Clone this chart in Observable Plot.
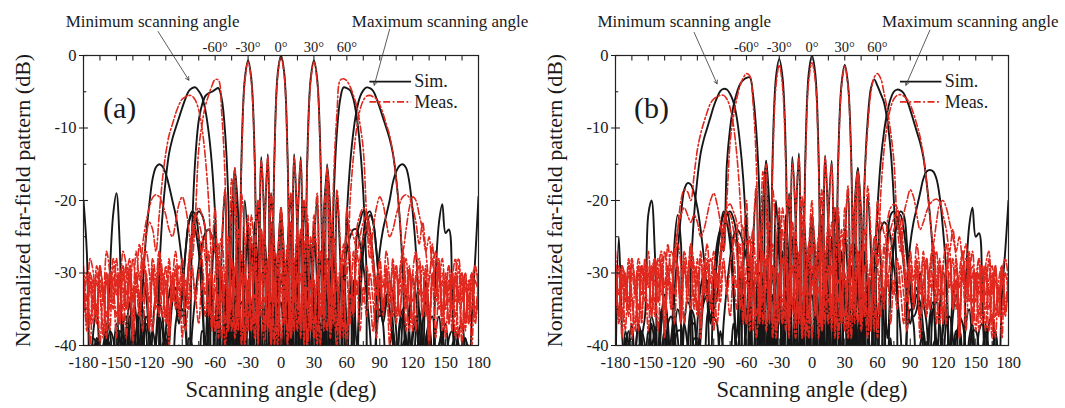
<!DOCTYPE html>
<html>
<head>
<meta charset="utf-8">
<script src="https://cdn.jsdelivr.net/npm/d3@7"></script>
<script src="https://cdn.jsdelivr.net/npm/@observablehq/plot@0.6"></script>
<style>
  html, body { margin: 0; padding: 0; background: #fff; }
  #wrap { display: flex; width: 1065px; height: 408px; overflow: hidden; }
</style>
</head>
<body>
<div id="wrap"></div>
<script>
// angle grid: -180..180 step 3 deg (121 samples)
const angles = d3.range(-180, 181, 3);

// ---------- Panel (a) : simulated ----------
const simA_min = [
-20,-27,-45,-38,-35,-42,-45,-40,-30,-22,
-19,-26,-45,-38,-34,-40,-45,-35,-31,-33,
-40,-45,-45,-30,-22,-17,-13.5,-11.5,-10,-8.6,
-7.2,-5.9,-4.9,-4.5,-4.4,-4.9,-5.7,-7.5,-10.5,-15,
-22,-32,-45,-33,-30,-36,-45,-34,-31,-37,
-45,-35,-32,-38,-45,-36,-33,-39,-45,-37,
-34,-40,-45,-38,-35,-41,-45,-39,-36,-42,
-45,-40,-37,-43,-45,-41,-38,-44,-45,-42,
-39,-45,-45,-43,-40,-45,-45,-44,-41,-45,
-45,-44,-42,-45,-45,-45,-43,-45,-45,-44,
-45,-45,-44,-45,-45,-45,-45,-44,-45,-45,
-45,-45,-45,-44,-45,-45,-45,-45,-45,-45,
-45];
const simA_m60 = [
-41,-42,-45,-39,-40,-45,-43,-37,-38,-45,
-40,-35,-37,-45,-38,-33,-36,-45,-32,-25,
-20.5,-17,-15.4,-15,-15.3,-16.3,-18,-20,-22,-25,
-29,-36,-45,-24,-14,-9,-6.8,-5.6,-5.2,-5.0,
-4.7,-4.5,-6,-10.5,-20,-45,-16,-22,-45,-20,
-27,-45,-23,-30,-45,-25,-33,-45,-27,-35,
-45,-28,-36,-45,-29,-37,-45,-30,-38,-45,
-31,-39,-45,-32,-40,-45,-33,-39,-45,-30,
-27,-25,-24,-24,-26,-29,-33,-38,-45,-38,
-35,-37,-45,-40,-38,-42,-45,-40,-39,-45,
-41,-40,-45,-45,-42,-41,-45,-43,-42,-45,
-44,-43,-45,-45,-43,-44,-45,-42,-41,-45,
-41];
const simA_m30 = [
-42,-43,-45,-40,-41,-45,-44,-39,-40,-45,
-43,-38,-39,-45,-42,-37,-41,-45,-39,-36,
-38,-45,-39,-34,-36,-45,-40,-34,-32,-35,
-36,-34,-29,-25,-22.5,-21.5,-22,-24,-45,-31,
-23,-45,-27,-18.5,-45,-22,-15.5,-45,-14,-3.3,
-0.7,-3.3,-14,-45,-14,-24,-45,-19,-27,-45,
-21,-29,-45,-23,-31,-45,-24,-33,-45,-26,
-34,-45,-28,-36,-45,-29,-38,-45,-30,-36,
-45,-32,-38,-45,-30,-25,-22,-21.5,-23,-27,
-32,-36,-34,-33,-37,-45,-38,-36,-40,-45,
-39,-37,-41,-45,-40,-38,-43,-45,-40,-39,
-44,-45,-41,-40,-45,-45,-42,-41,-45,-44,
-43];
const simA_0 = [
-40,-42,-45,-41,-39,-45,-40,-38,-45,-42,
-37,-39,-45,-42,-36,-37,-45,-40,-35,-38,
-45,-38,-33,-36,-45,-38,-33,-31,-34,-37,
-33,-27,-23,-22,-24,-27,-34,-40,-31,-45,
-38,-29,-45,-35,-27,-45,-34,-25,-45,-32,
-23,-45,-30,-20,-45,-25,-13.6,-45,-14,-2.5,
0,-2.5,-14,-45,-13.6,-25,-45,-20,-30,-45,
-23,-32,-45,-25,-34,-45,-27,-35,-45,-29,
-38,-45,-31,-40,-34,-27,-24,-22,-23,-27,
-33,-37,-34,-31,-33,-38,-45,-36,-33,-38,
-45,-38,-35,-40,-45,-37,-36,-42,-45,-39,
-37,-42,-45,-38,-40,-45,-39,-41,-45,-42,
-40];
const simA_30 = [
-43,-44,-45,-41,-42,-45,-45,-40,-41,-45,
-44,-39,-40,-45,-43,-38,-40,-45,-41,-37,
-39,-45,-40,-36,-38,-45,-37,-33,-34,-36,
-32,-27,-23,-21.5,-22,-25,-30,-45,-38,-32,
-45,-36,-30,-45,-38,-29,-45,-36,-28,-45,
-34,-26,-45,-33,-24,-45,-31,-23,-45,-29,
-21,-45,-27,-19,-45,-24,-14,-45,-14,-3.3,
-0.7,-3.3,-14,-45,-15,-22,-45,-19,-28,-45,
-22,-30,-45,-25,-23,-21.5,-22,-24,-28,-33,
-36,-35,-33,-35,-40,-45,-37,-35,-39,-45,
-38,-36,-40,-45,-39,-37,-42,-45,-40,-38,
-43,-45,-40,-39,-44,-45,-41,-40,-45,-43,
-42];
const simA_60 = [
-42,-41,-45,-45,-39,-40,-45,-43,-38,-39,
-45,-42,-37,-36,-41,-45,-38,-35,-37,-45,
-40,-38,-41,-45,-42,-38,-40,-45,-37,-35,
-35,-38,-45,-38,-33,-29,-26,-24.5,-24,-25,
-27,-30,-45,-39,-33,-45,-40,-32,-45,-39,
-31,-45,-38,-30,-45,-37,-29,-45,-36,-28,
-45,-35,-27,-45,-33,-25,-45,-30,-23,-45,
-27,-20,-45,-22,-16,-45,-20,-10.5,-6,-4.4,
-4.5,-4.8,-6,-8.5,-12.5,-19,-30,-45,-45,-33,
-27,-24,-22,-20,-17.5,-16,-15.2,-15,-15.5,-17.5,
-21.5,-27,-36,-45,-31,-36,-45,-38,-36,-41,
-45,-39,-38,-43,-45,-40,-39,-44,-45,-42,
-41];
const simA_max = [
-45,-44,-43,-45,-45,-43,-44,-45,-42,-41,
-45,-45,-42,-41,-45,-45,-43,-42,-45,-45,
-41,-40,-45,-45,-40,-39,-44,-45,-41,-40,
-45,-45,-39,-40,-45,-44,-38,-39,-45,-44,
-36,-38,-45,-43,-35,-37,-45,-42,-34,-36,
-45,-41,-33,-35,-45,-40,-32,-34,-45,-39,
-31,-33,-45,-38,-30,-32,-45,-37,-29,-31,
-45,-36,-28,-30,-45,-34,-28,-33,-45,-32,
-22,-15,-10.5,-7.5,-5.7,-4.8,-4.4,-4.5,-4.9,-5.9,
-7.2,-8.6,-10,-11.5,-13.5,-17,-22,-30,-45,-36,
-31,-33,-45,-37,-34,-38,-45,-30,-23,-20.5,
-24.5,-24,-33,-45,-38,-37,-42,-45,-36,-28,
-19.5];

// ---------- Panel (a) : measured ----------
const measA_min = [
-29,-34,-28,-30,-36,-29,-33,-27,-30,-35,
-28,-32,-27,-29,-34,-28,-31,-26,-29,-25,
-23,-24,-27,-22,-17,-13.5,-11,-9.5,-8,-6.8,
-6,-5.7,-5.5,-5.6,-6.2,-7.5,-10,-14,-20,-30,
-38,-28,-25,-31,-27,-35,-29,-33,-38,-30,
-34,-29,-37,-31,-35,-40,-30,-34,-31,-38,
-32,-36,-30,-39,-33,-31,-37,-32,-40,-34,
-31,-38,-33,-36,-30,-39,-34,-32,-37,-31,
-40,-33,-35,-31,-38,-32,-36,-30,-34,-39,
-31,-35,-30,-37,-33,-29,-36,-31,-38,-30,
-34,-31,-29,-36,-32,-40,-30,-33,-28,-35,
-31,-37,-30,-34,-29,-38,-32,-35,-30,-36,
-33];
const measA_m60 = [
-30,-38,-31,-35,-29,-32,-38,-30,-34,-28,
-31,-37,-30,-35,-29,-33,-27,-31,-26,-23,
-21,-19.6,-19.2,-19.5,-20.5,-22,-24,-25,-23,-20.5,
-19.5,-21,-24,-28,-22,-13,-9.5,-7,-5.5,-4.2,
-3.3,-3.4,-8,-17,-38,-17,-22,-36,-19,-26,
-38,-22,-28,-39,-24,-30,-37,-26,-32,-40,
-27,-33,-38,-28,-34,-30,-37,-29,-35,-31,
-39,-30,-36,-32,-28,-34,-30,-38,-29,-27,
-25,-24,-25,-27,-30,-34,-29,-33,-38,-31,
-29,-35,-31,-40,-32,-30,-36,-31,-28,-34,
-30,-38,-31,-33,-29,-36,-31,-39,-32,-30,
-35,-31,-38,-30,-34,-31,-37,-32,-30,-36,
-33];
const measA_m30 = [
-31,-35,-32,-37,-30,-33,-39,-31,-35,-29,
-33,-30,-37,-31,-28,-34,-30,-36,-29,-27,
-30,-38,-32,-27,-33,-29,-36,-31,-27,-32,
-28,-33,-29,-25,-22,-21,-22,-24,-36,-28,
-21,-39,-26,-18.5,-37,-23,-15.5,-38,-15,-3.6,
-0.9,-3.6,-15,-40,-14.5,-23,-38,-19,-27,-37,
-21,-28,-40,-23,-30,-38,-24,-31,-39,-25,
-32,-40,-27,-33,-38,-28,-34,-40,-29,-34,
-38,-30,-34,-28,-25,-23,-22,-24,-28,-33,
-30,-35,-29,-33,-28,-36,-30,-27,-33,-29,
-37,-30,-28,-34,-30,-38,-31,-29,-35,-31,
-39,-32,-30,-36,-33,-40,-31,-34,-30,-37,
-32];
const measA_0 = [
-33,-31,-40,-33,-36,-30,-32,-39,-30,-34,
-31,-37,-29,-33,-30,-40,-32,-36,-29,-31,
-38,-30,-35,-28,-31,-37,-29,-34,-30,-36,
-31,-35,-30,-26,-24,-25,-28,-33,-27,-37,
-30,-26,-39,-31,-25,-38,-30,-24,-40,-29,
-22,-38,-27,-20,-36,-24,-14,-40,-14.5,-2.8,
-0.2,-2.8,-14.5,-38,-14,-24,-36,-20,-27,-38,
-22,-29,-40,-24,-30,-38,-25,-31,-39,-26,
-30,-37,-27,-33,-28,-25,-24,-26,-30,-35,
-31,-36,-30,-34,-29,-37,-31,-28,-35,-30,
-38,-31,-29,-36,-32,-40,-30,-33,-29,-37,
-31,-34,-30,-39,-32,-30,-36,-33,-40,-31,
-33];
const measA_30 = [
-32,-37,-30,-34,-31,-40,-33,-36,-30,-32,
-39,-31,-35,-29,-31,-38,-30,-34,-28,-30,
-37,-29,-33,-27,-30,-36,-28,-33,-29,-35,
-30,-33,-28,-24,-22,-23,-25,-28,-34,-30,
-38,-34,-29,-40,-34,-28,-38,-33,-27,-40,
-32,-25,-39,-31,-24,-38,-30,-23,-40,-28,
-21,-37,-27,-19,-38,-23,-14.5,-40,-15,-3.6,
-0.9,-3.6,-15,-38,-15.5,-23,-37,-18.5,-26,-39,
-21,-28,-36,-24,-22,-21,-22,-25,-29,-33,
-28,-32,-27,-31,-36,-29,-33,-27,-32,-38,
-30,-27,-33,-29,-36,-31,-28,-34,-30,-38,
-32,-29,-35,-31,-39,-33,-30,-37,-32,-35,
-31];
const measA_60 = [
-33,-36,-30,-32,-37,-31,-34,-30,-38,-31,
-30,-35,-32,-39,-31,-36,-31,-33,-38,-30,
-34,-28,-31,-36,-30,-32,-40,-31,-35,-29,
-31,-38,-33,-29,-34,-30,-27,-25,-24,-25,
-27,-29,-34,-30,-38,-28,-32,-36,-30,-39,
-31,-35,-29,-37,-30,-34,-28,-38,-33,-27,
-40,-32,-26,-37,-30,-24,-39,-28,-22,-38,
-26,-19,-36,-22,-17,-38,-17,-8,-3.4,-3.2,
-3.5,-4.3,-5.5,-7,-9.5,-13,-22,-28,-24,-21,
-19.5,-20.5,-23,-25,-24,-22,-20.5,-19.5,-19.2,-19.6,
-21,-23,-26,-23,-27,-31,-26,-33,-29,-36,
-30,-37,-31,-28,-34,-30,-38,-31,-35,-29,
-32];
const measA_max = [
-34,-30,-37,-31,-35,-29,-33,-38,-30,-32,
-36,-31,-29,-35,-30,-39,-32,-30,-34,-31,
-37,-30,-33,-29,-36,-31,-38,-30,-34,-32,
-39,-31,-35,-30,-33,-37,-31,-36,-30,-38,
-32,-35,-30,-37,-33,-31,-39,-34,-30,-36,
-31,-38,-33,-35,-30,-37,-32,-40,-31,-34,
-30,-36,-33,-39,-31,-35,-30,-38,-32,-34,
-37,-31,-29,-35,-28,-33,-27,-31,-38,-28,
-30,-20,-14,-10,-7.5,-6.2,-5.6,-5.5,-5.7,-6,
-6.8,-8,-9.5,-11,-13.5,-17,-22,-27,-24,-21,
-19.5,-20,-22,-24,-27,-25,-29,-27,-31,-28,
-33,-29,-35,-30,-28,-34,-30,-37,-31,-29,
-32];

// ---------- Panel (b) : simulated ----------
const simB_min = [
-45,-25,-38,-45,-40,-37,-43,-45,-39,-36,
-22,-20,-27,-45,-36,-33,-38,-45,-26,-22,
-26,-45,-45,-30,-22,-17,-13.5,-11.5,-10,-8.5,
-7,-5.8,-4.9,-4.6,-4.7,-5.3,-6.4,-8.5,-12,-17,
-25,-36,-45,-33,-30,-36,-45,-34,-31,-37,
-45,-36,-33,-38,-45,-35,-32,-39,-45,-36,
-33,-40,-45,-37,-34,-41,-45,-38,-35,-42,
-45,-39,-36,-43,-45,-40,-37,-44,-45,-41,
-38,-45,-45,-42,-39,-45,-45,-43,-40,-45,
-45,-43,-41,-45,-45,-44,-42,-45,-45,-43,
-45,-44,-43,-45,-45,-45,-44,-43,-45,-45,
-45,-44,-45,-43,-45,-45,-44,-45,-45,-45,
-45];
const simB_m60 = [
-41,-43,-45,-38,-40,-45,-42,-37,-39,-45,
-41,-36,-38,-45,-37,-34,-37,-45,-33,-27,
-22,-18.5,-17.6,-17.8,-19,-21,-24,-28,-33,-45,
-31,-26,-24,-27,-15,-10,-7,-5.2,-4,-3.4,
-3.1,-3,-5.5,-10.5,-20,-45,-14.5,-21,-45,-20,
-28,-45,-22,-30,-45,-25,-33,-45,-27,-35,
-45,-28,-36,-45,-29,-37,-45,-30,-38,-45,
-31,-39,-45,-32,-40,-45,-33,-39,-45,-30,
-27,-24,-23,-23.5,-25,-29,-33,-38,-45,-38,
-35,-37,-45,-40,-38,-42,-45,-40,-39,-45,
-41,-40,-45,-45,-42,-41,-45,-43,-42,-45,
-44,-43,-45,-45,-43,-44,-45,-42,-41,-45,
-41];
const simB_m30 = [
-41,-44,-45,-39,-42,-45,-43,-40,-41,-45,
-44,-37,-40,-45,-41,-38,-40,-45,-38,-35,
-37,-45,-40,-35,-36,-45,-39,-33,-31,-34,
-35,-33,-28,-24,-22,-21.5,-22.5,-25,-45,-30,
-22,-45,-26,-19,-45,-21,-14.5,-45,-13.5,-3,
-0.5,-3,-13.5,-45,-14,-23,-45,-20,-26,-45,
-22,-28,-45,-22,-30,-45,-25,-32,-45,-27,
-33,-45,-29,-35,-45,-28,-37,-45,-31,-35,
-45,-33,-37,-45,-31,-26,-23,-22,-24,-28,
-33,-35,-33,-34,-38,-45,-37,-35,-41,-45,
-38,-36,-42,-45,-39,-37,-44,-45,-41,-38,
-43,-45,-42,-41,-45,-45,-41,-42,-45,-43,
-44];
const simB_0 = [
-41,-43,-45,-40,-38,-45,-41,-37,-45,-43,
-38,-40,-45,-41,-35,-38,-45,-39,-36,-39,
-45,-37,-34,-35,-45,-37,-32,-30,-33,-36,
-34,-28,-24,-21.5,-23,-26,-33,-39,-30,-45,
-37,-28,-45,-34,-26,-45,-33,-24,-45,-31,
-22,-45,-29,-19,-45,-24,-13.5,-45,-13.5,-2.5,
0,-2.5,-13.5,-45,-13.8,-24,-45,-21,-29,-45,
-24,-31,-45,-26,-33,-45,-28,-34,-45,-30,
-37,-45,-32,-39,-33,-26,-23,-21.5,-22,-26,
-32,-36,-35,-30,-34,-37,-45,-35,-34,-37,
-45,-37,-36,-39,-45,-36,-37,-41,-45,-38,
-38,-41,-45,-37,-41,-45,-38,-42,-45,-41,
-41];
const simB_30 = [
-44,-43,-45,-42,-41,-45,-44,-41,-40,-45,
-43,-40,-39,-45,-42,-39,-41,-45,-40,-38,
-38,-45,-41,-37,-37,-45,-36,-34,-33,-37,
-33,-28,-24,-22,-21.5,-24,-31,-45,-37,-33,
-45,-35,-31,-45,-37,-30,-45,-35,-29,-45,
-33,-27,-45,-32,-25,-45,-30,-24,-45,-28,
-22,-45,-26,-20,-45,-23,-14.5,-45,-14.5,-4,
-1.3,-4,-14.5,-45,-15.5,-22,-45,-19.5,-27,-45,
-23,-29,-45,-26,-22,-21.5,-22.5,-25,-29,-34,
-37,-34,-32,-36,-41,-45,-36,-34,-40,-45,
-37,-35,-41,-45,-38,-38,-43,-45,-39,-37,
-44,-45,-41,-38,-45,-45,-40,-41,-45,-44,
-42];
const simB_60 = [
-43,-41,-45,-45,-40,-39,-45,-42,-38,-40,
-45,-41,-38,-37,-42,-45,-37,-36,-38,-45,
-41,-37,-40,-45,-41,-39,-41,-45,-36,-34,
-36,-37,-45,-37,-32,-28,-25,-24,-24.5,-26,
-28,-31,-45,-38,-32,-45,-41,-31,-45,-38,
-30,-45,-37,-29,-45,-36,-28,-45,-35,-27,
-45,-34,-26,-45,-32,-24,-45,-29,-22,-45,
-26,-19,-45,-21,-15.5,-45,-18,-9,-4.5,-3.3,
-4.2,-5.3,-6.5,-9,-13,-20,-32,-45,-45,-32,
-26,-23,-21,-19,-17,-16,-15.8,-16,-17,-19.5,
-24,-30,-45,-33,-31,-37,-45,-37,-35,-40,
-45,-38,-37,-42,-45,-41,-38,-43,-45,-43,
-42];
const simB_max = [
-45,-43,-44,-45,-45,-42,-43,-45,-41,-42,
-45,-44,-43,-40,-45,-45,-42,-41,-45,-45,
-40,-41,-45,-44,-39,-40,-45,-44,-40,-41,
-45,-44,-38,-41,-45,-43,-37,-40,-45,-43,
-35,-39,-45,-42,-34,-38,-45,-41,-33,-37,
-45,-40,-32,-36,-45,-39,-31,-35,-45,-38,
-30,-34,-45,-37,-29,-33,-45,-36,-28,-32,
-45,-35,-27,-31,-45,-33,-27,-34,-45,-30,
-21,-14.5,-10.5,-7.8,-6,-5,-4.7,-4.8,-5.2,-6.2,
-7.5,-9,-10.5,-12,-14,-17.5,-22,-28,-45,-35,
-30,-32,-45,-36,-33,-37,-45,-31,-23.5,-21,
-25,-24.5,-33,-45,-37,-36,-41,-45,-33,-27,
-20];

// ---------- Panel (b) : measured ----------
const measB_min = [
-27,-33,-29,-31,-35,-28,-32,-28,-31,-34,
-27,-31,-28,-30,-33,-27,-30,-27,-28,-24,
-20,-18.5,-18.8,-20,-16.5,-13,-10.8,-9.2,-7.8,-6.6,
-6,-5.7,-5.5,-5.5,-6,-7.2,-9.6,-13.5,-19.5,-29,
-37,-29,-24,-30,-26,-34,-28,-32,-37,-29,
-33,-28,-36,-30,-34,-39,-29,-33,-30,-37,
-31,-35,-29,-38,-32,-30,-36,-31,-39,-33,
-30,-37,-32,-35,-29,-38,-33,-31,-36,-30,
-39,-32,-34,-30,-37,-31,-35,-29,-33,-38,
-30,-34,-29,-36,-32,-28,-35,-30,-37,-29,
-33,-30,-28,-35,-31,-39,-29,-32,-27,-34,
-30,-36,-29,-33,-28,-37,-31,-34,-29,-35,
-32];
const measB_m60 = [
-31,-37,-30,-34,-28,-33,-37,-29,-33,-29,
-30,-36,-29,-34,-28,-32,-26,-30,-27,-24,
-22,-21,-22,-23,-22,-23,-25,-24,-22,-20,
-19,-20.5,-23,-27,-20,-12,-8.5,-6,-4.2,-3.1,
-2.5,-2.8,-6.5,-15,-36,-16,-21,-35,-18.5,-25,
-37,-21,-27,-38,-23,-29,-36,-25,-31,-39,
-26,-32,-37,-27,-33,-29,-36,-28,-34,-30,
-38,-29,-35,-31,-27,-33,-29,-37,-28,-26,
-24,-23,-24.5,-26,-29,-33,-28,-32,-37,-30,
-28,-34,-30,-39,-31,-29,-35,-30,-27,-33,
-29,-37,-30,-32,-28,-35,-30,-38,-31,-29,
-34,-30,-37,-29,-33,-30,-36,-31,-29,-35,
-32];
const measB_m30 = [
-30,-36,-31,-38,-29,-34,-38,-30,-36,-28,
-32,-29,-36,-30,-27,-35,-29,-35,-28,-26,
-29,-37,-31,-26,-34,-28,-35,-30,-26,-31,
-27,-32,-28,-24,-21,-20.5,-21.5,-23,-35,-27,
-20,-38,-25,-18,-36,-22,-15,-37,-15,-4.2,
-1.3,-4.2,-15.5,-39,-15,-22,-37,-19.5,-26,-36,
-22,-27,-39,-22,-29,-37,-23,-30,-38,-24,
-31,-39,-26,-32,-37,-27,-33,-39,-28,-33,
-37,-29,-33,-27,-24,-22.5,-21.5,-23,-27,-32,
-29,-34,-28,-32,-27,-35,-29,-26,-32,-28,
-36,-29,-27,-33,-29,-37,-30,-28,-34,-30,
-38,-31,-29,-35,-32,-39,-30,-33,-29,-36,
-31];
const measB_0 = [
-32,-30,-39,-32,-35,-29,-31,-38,-29,-33,
-30,-36,-28,-32,-29,-39,-31,-35,-28,-30,
-37,-29,-34,-27,-30,-36,-28,-33,-29,-35,
-30,-34,-29,-25,-23,-24,-27,-32,-26,-36,
-29,-25,-38,-30,-24,-37,-29,-23,-39,-28,
-21,-37,-26,-19.5,-35,-23,-14,-39,-15,-3.5,
-1,-3.5,-15,-37,-14,-23,-35,-21,-26,-37,
-21,-28,-39,-23,-29,-37,-24,-30,-38,-25,
-29,-36,-26,-32,-27,-24,-23,-25,-29,-34,
-30,-35,-29,-33,-28,-36,-30,-27,-34,-29,
-37,-30,-28,-35,-31,-39,-29,-32,-28,-36,
-30,-33,-29,-38,-31,-29,-35,-32,-39,-30,
-32];
const measB_30 = [
-31,-36,-29,-33,-30,-39,-32,-35,-29,-31,
-38,-30,-34,-28,-30,-37,-29,-33,-27,-29,
-36,-28,-32,-26,-29,-35,-27,-32,-28,-34,
-29,-32,-27,-23,-21.5,-22,-24,-27,-33,-29,
-37,-33,-28,-39,-33,-27,-37,-32,-26,-39,
-31,-24,-38,-30,-23,-37,-29,-22,-39,-27,
-20,-36,-26,-18.5,-37,-22,-15,-39,-15.5,-4.3,
-1.5,-4.3,-15.5,-37,-16,-22,-36,-18,-25,-38,
-20,-27,-35,-23,-21,-20.5,-21,-24,-28,-32,
-27,-31,-26,-30,-35,-28,-32,-26,-31,-37,
-29,-26,-32,-28,-35,-30,-27,-33,-29,-37,
-31,-28,-34,-30,-38,-32,-29,-36,-31,-34,
-30];
const measB_60 = [
-32,-35,-29,-31,-36,-30,-33,-29,-37,-30,
-29,-34,-31,-38,-30,-35,-30,-32,-37,-29,
-33,-27,-30,-35,-29,-31,-39,-30,-34,-28,
-30,-37,-32,-28,-33,-29,-26,-24,-23,-24,
-26,-28,-33,-29,-37,-27,-31,-35,-29,-38,
-30,-34,-28,-36,-29,-33,-27,-37,-32,-26,
-39,-31,-25,-36,-29,-23,-38,-27,-21,-37,
-25,-18,-35,-21,-16,-37,-18,-10,-5,-3,
-2.5,-3.2,-5.2,-7.5,-10.5,-14.5,-23,-27,-22,-20,
-18.5,-19.5,-22,-24,-23,-21.5,-20.5,-20,-19.8,-20.2,
-22,-24,-27,-24,-28,-32,-27,-34,-30,-37,
-31,-38,-32,-29,-35,-31,-39,-32,-36,-30,
-33];
const measB_max = [
-33,-29,-36,-30,-34,-28,-32,-37,-29,-31,
-35,-30,-28,-34,-29,-38,-31,-29,-33,-30,
-36,-29,-32,-28,-35,-30,-37,-29,-33,-31,
-38,-30,-34,-29,-32,-36,-30,-35,-29,-37,
-31,-34,-29,-36,-32,-30,-38,-33,-29,-35,
-30,-37,-32,-34,-29,-36,-31,-39,-30,-33,
-29,-35,-32,-38,-30,-34,-29,-37,-31,-33,
-36,-30,-28,-34,-27,-32,-26,-30,-37,-27,
-29,-19,-13,-9.5,-7.2,-6,-5.5,-5.4,-5.6,-6,
-6.8,-8,-9.5,-11.2,-13.8,-17.5,-22,-26,-23,-20.5,
-20,-21,-23,-25,-27,-25,-28,-26,-30,-27,
-32,-28,-34,-29,-27,-33,-29,-36,-30,-28,
-31];

// ---------- text / annotation data ----------
const xTicks = d3.range(-180, 181, 30);
const xMinor = d3.range(-180, 181, 15);
const topTicks = [-60, -30, 0, 30, 60];
const yTicks = [0, -10, -20, -30, -40];
const yMinor = d3.range(-40, 1, 5);
const xLabel = "Scanning angle (deg)";
const yLabel = "Normalized far-field pattern (dB)";
const noteText = ["Minimum scanning angle", "Maximum scanning angle"];
const noteX = [-117, 145];
const noteY = [4.7, 4.7];
const arrowsA = [{x1: -112, y1: 3.3, x2: -84, y2: -3.4}, {x1: 99, y1: 3.6, x2: 85, y2: -4.1}];
const arrowsB = [{x1: -108, y1: 3.2, x2: -87, y2: -3.9}, {x1: 108, y1: 3.5, x2: 86, y2: -4.1}];
const legendItems = [{label: "Sim.", y: -3.6, kind: "sim"}, {label: "Meas.", y: -6.4, kind: "meas"}];
const legendX = [81, 119, 121.5];

const SIM_COLOR = "#161616";
const MEAS_COLOR = "#e0281e";
const DASH = "7,2.5,1.8,2.5";

const all = {simA_min, simA_m60, simA_m30, simA_0, simA_30, simA_60, simA_max,
  measA_min, measA_m60, measA_m30, measA_0, measA_30, measA_60, measA_max,
  simB_min, simB_m60, simB_m30, simB_0, simB_30, simB_60, simB_max,
  measB_min, measB_m60, measB_m30, measB_0, measB_30, measB_60, measB_max};
const bad = Object.entries(all).filter(([k, v]) => v.length !== angles.length).map(([k, v]) => k + ":" + v.length);
if (bad.length) throw new Error("length mismatch " + bad.join(","));

function toRows(list) {
  const out = [];
  list.forEach((vals, k) => vals.forEach((v, i) => out.push({a: angles[i], v, id: k})));
  return out;
}

function panel({sim, meas, tag, arrows, width, marginRight}) {
  const simRows = toRows(sim);
  const measRows = toRows(meas);
  const notes = noteText.map((t, i) => ({t, x: noteX[i], y: noteY[i]}));
  return Plot.plot({
    width, height: 408,
    marginLeft: 83, marginRight, marginTop: 55, marginBottom: 63,
    x: {domain: [-180, 180], axis: null},
    y: {domain: [-40, 0], axis: null},
    style: {fontFamily: "'Liberation Serif', 'Times New Roman', serif", fontSize: "16px", color: "#1a1a1a", background: "#fff", overflow: "visible"},
    marks: [
      Plot.line(simRows, {x: "a", y: "v", z: "id", stroke: SIM_COLOR, strokeWidth: 1.9, curve: "catmull-rom", clip: true}),
      Plot.line(measRows, {x: "a", y: "v", z: "id", stroke: MEAS_COLOR, strokeWidth: 1.6, strokeDasharray: DASH, curve: "catmull-rom", clip: true}),
      Plot.frame({stroke: "#222", strokeWidth: 1.2}),
      // inward ticks
      Plot.ruleX(xMinor, {x: d => d, y1: -40, y2: d => d % 30 === 0 ? -39.1 : -39.45, stroke: "#222", strokeWidth: 1.1}),
      Plot.ruleX(xMinor, {x: d => d, y1: 0, y2: -0.75, stroke: "#222", strokeWidth: 1.1}),
      Plot.ruleY(yMinor, {y: d => d, x1: -180, x2: d => d % 10 === 0 ? -175.5 : -177, stroke: "#222", strokeWidth: 1.1}),
      // axes
      Plot.axisX({ticks: xTicks, tickSize: 0, tickPadding: 11, tickFormat: d => String(d), label: null, fontSize: 16.5}),
      Plot.axisX({anchor: "top", ticks: topTicks, tickSize: 0, tickPadding: 4, tickFormat: d => d + "°", label: null, fontSize: 14.5}),
      Plot.axisY({ticks: yTicks, tickSize: 4, tickPadding: 3, tickFormat: d => String(d), label: null, fontSize: 16.5}),
      Plot.text([xLabel], {frameAnchor: "bottom", dy: 44, fontSize: 22.5, lineAnchor: "middle", textAnchor: "middle"}),
      Plot.text([yLabel], {frameAnchor: "left", dx: -61, rotate: -90, fontSize: 22, lineAnchor: "middle", textAnchor: "middle"}),
      // panel tag
      Plot.text([tag], {x: -147, y: -7.3, fontSize: 30, lineAnchor: "middle"}),
      // legend
      Plot.ruleY(legendItems.filter(d => d.kind === "sim"), {y: "y", x1: legendX[0], x2: legendX[1], stroke: SIM_COLOR, strokeWidth: 1.9}),
      Plot.ruleY(legendItems.filter(d => d.kind === "meas"), {y: "y", x1: legendX[0], x2: legendX[1], stroke: MEAS_COLOR, strokeWidth: 1.6, strokeDasharray: DASH}),
      Plot.text(legendItems, {x: legendX[2], y: "y", text: "label", textAnchor: "start", fontSize: 18, lineAnchor: "middle"}),
      // annotations
      Plot.text(notes, {x: "x", y: "y", text: "t", fontSize: 17, lineAnchor: "middle"}),
      Plot.arrow(arrows, {x1: "x1", y1: "y1", x2: "x2", y2: "y2", stroke: "#333", strokeWidth: 0.8, headLength: 7, bend: 0})
    ]
  });
}

const wrap = document.getElementById("wrap");
wrap.appendChild(panel({
  sim: [simA_min, simA_m60, simA_m30, simA_0, simA_30, simA_60, simA_max],
  meas: [measA_min, measA_m60, measA_m30, measA_0, measA_30, measA_60, measA_max],
  tag: "(a)", arrows: arrowsA, width: 532, marginRight: 54
}));
wrap.appendChild(panel({
  sim: [simB_min, simB_m60, simB_m30, simB_0, simB_30, simB_60, simB_max],
  meas: [measB_min, measB_m60, measB_m30, measB_0, measB_30, measB_60, measB_max],
  tag: "(b)", arrows: arrowsB, width: 533, marginRight: 57
}));
</script>
</body>
</html>
